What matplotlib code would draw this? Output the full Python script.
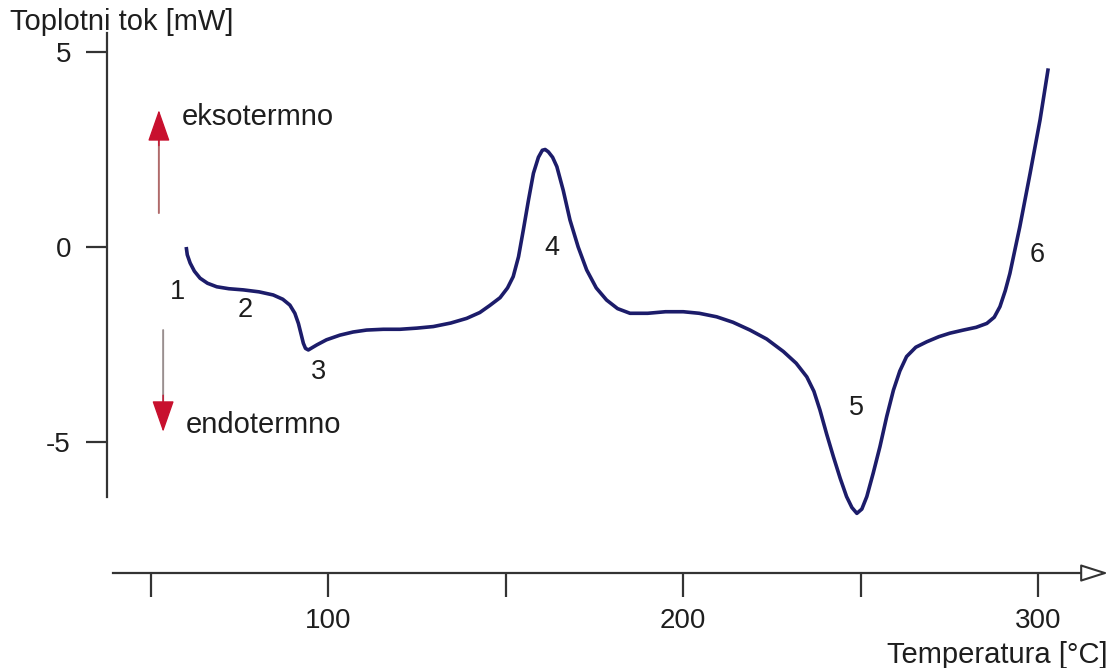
import matplotlib
matplotlib.use('Agg')
import matplotlib.pyplot as plt

plt.rcParams['font.family'] = ['Liberation Sans', 'DejaVu Sans']

## Data
temperature = [60.0, 60.3, 61.1, 62.3, 63.9, 66.0, 68.6, 72.0, 76.1, 80.5,
               84.5, 87.2, 89.2, 90.6, 91.6, 92.4, 93.0, 93.6, 94.4, 95.5,
               96.8, 99.5, 103.3, 107.0, 110.8, 115.5, 120.2, 125.0, 129.6, 134.5,
               139.0, 142.7, 145.5, 148.4, 150.5, 152.1, 153.6, 154.96, 156.4, 157.8,
               159.2, 160.3, 161.1, 162.0, 163.2, 164.4, 166.2, 168.1, 170.4, 172.8,
               175.5, 178.4, 181.5, 185.0, 190.0, 195.0, 200.0, 204.5, 209.4, 214.0,
               218.8, 223.5, 228.2, 231.8, 234.8, 236.8, 238.5, 240.4, 242.3, 244.2,
               246.0, 247.5, 248.9, 250.3, 251.7, 253.5, 255.4, 257.3, 259.2, 261.0,
               262.9, 265.5, 268.6, 272.0, 275.1, 278.9, 282.5, 285.5, 287.6, 289.2,
               290.7, 292.0, 294.8, 297.7, 300.5, 302.8]
heat_flow = [0.0, -0.2, -0.41, -0.62, -0.8, -0.93, -1.02, -1.07, -1.1, -1.15,
             -1.23, -1.34, -1.49, -1.7, -1.96, -2.25, -2.47, -2.6, -2.64, -2.58,
             -2.51, -2.38, -2.26, -2.18, -2.13, -2.11, -2.11, -2.08, -2.04, -1.95,
             -1.83, -1.68, -1.5, -1.3, -1.05, -0.76, -0.25, 0.44, 1.2, 1.89,
             2.3, 2.48, 2.5, 2.44, 2.3, 2.06, 1.45, 0.69, 0.0, -0.59,
             -1.05, -1.36, -1.58, -1.7, -1.7, -1.66, -1.66, -1.7, -1.79, -1.93,
             -2.13, -2.36, -2.68, -2.98, -3.33, -3.7, -4.18, -4.8, -5.38, -5.93,
             -6.4, -6.68, -6.83, -6.72, -6.4, -5.8, -5.12, -4.35, -3.67, -3.18,
             -2.81, -2.57, -2.43, -2.3, -2.21, -2.13, -2.06, -1.96, -1.8, -1.53,
             -1.12, -0.68, 0.52, 1.89, 3.26, 4.58]

# numbered stages of the curve
stage_labels = ['1', '2', '3', '4', '5', '6']
stage_t = [57.5, 76.6, 97.2, 162.9, 248.7, 299.6]
stage_q = [-1.15, -1.62, -3.2, -0.03, -4.14, -0.2]

x_ticks = [50, 100, 150, 200, 250, 300]
x_ticklabels = ['', '100', '', '200', '', '300']
y_ticks = [-5, 0, 5]
y_ticklabels = ['-5', '0', '5']

text_col = '#1e1e1e'
line_col = '#1c1c6a'
red = '#c8102e'

fig = plt.figure(figsize=(11.1, 6.68), dpi=100)
ax = fig.add_axes([0, 0, 1, 1])
ax.set_xlim(7.55, 320.2)
ax.set_ylim(-10.795, 6.333)
ax.patch.set_alpha(0)

ax.plot(temperature, heat_flow, color=line_col, lw=2.6,
        solid_joinstyle='round', solid_capstyle='butt')

for lab, t, q in zip(stage_labels, stage_t, stage_q):
    ax.text(t, q, lab, fontsize=19.5, color=text_col, ha='center', va='center')

# axes as drawn in the original: detached y axis and x axis with arrow
for s in ['top', 'right']:
    ax.spines[s].set_visible(False)
ax.spines['left'].set_position(('data', 37.7))
ax.spines['left'].set_bounds(-6.41, 5.49)
ax.spines['bottom'].set_position(('data', -8.36))
ax.spines['bottom'].set_bounds(39.4, 314.0)
for s in ['left', 'bottom']:
    ax.spines[s].set_linewidth(1.6)
    ax.spines[s].set_color('#333333')

ax.annotate('', xy=(319.7, -8.36), xytext=(313.0, -8.36),
            arrowprops=dict(arrowstyle='-|>,head_length=0.85,head_width=0.27',
                            mutation_scale=20, fc='white', ec='#333333', lw=1.5,
                            shrinkA=0, shrinkB=0))

ax.set_xticks(x_ticks)
ax.set_xticklabels(x_ticklabels)
ax.set_yticks(y_ticks)
ax.set_yticklabels(y_ticklabels)
ax.tick_params(axis='x', direction='out', length=17, width=1.6, pad=8,
               labelsize=20, colors='#333333', labelcolor=text_col)
ax.tick_params(axis='y', direction='out', length=15, width=1.6, pad=11,
               labelsize=20, colors='#333333', labelcolor=text_col)

# exo / endo arrows
ax.annotate('', xy=(52.3, 0.87), xytext=(52.3, 3.0),
            arrowprops=dict(arrowstyle='-', color='#b06a6a', lw=1.4,
                            shrinkA=0, shrinkB=0))
ax.annotate('', xy=(52.3, 3.51), xytext=(52.3, 2.6),
            arrowprops=dict(arrowstyle='-|>,head_length=1.0,head_width=0.35',
                            mutation_scale=20, color=red, shrinkA=0, shrinkB=0))
ax.annotate('', xy=(53.5, -2.13), xytext=(53.5, -4.2),
            arrowprops=dict(arrowstyle='-', color='#9a8f8f', lw=1.4,
                            shrinkA=0, shrinkB=0))
ax.annotate('', xy=(53.5, -4.74), xytext=(53.5, -3.8),
            arrowprops=dict(arrowstyle='-|>,head_length=1.0,head_width=0.35',
                            mutation_scale=20, color=red, shrinkA=0, shrinkB=0))
ax.text(58.8, 3.33, 'eksotermno', fontsize=21, color=text_col, va='center')
ax.text(59.9, -4.56, 'endotermno', fontsize=21, color=text_col, va='center')

fig.text(10 / 1110, 1 - 22 / 668, 'Toplotni tok [mW]', fontsize=21,
         color=text_col, ha='left', va='center')
fig.text(1108 / 1110, 1 - 655 / 668, 'Temperatura [°C]', fontsize=21,
         color=text_col, ha='right', va='center')

fig.savefig('out.png', dpi=100)
